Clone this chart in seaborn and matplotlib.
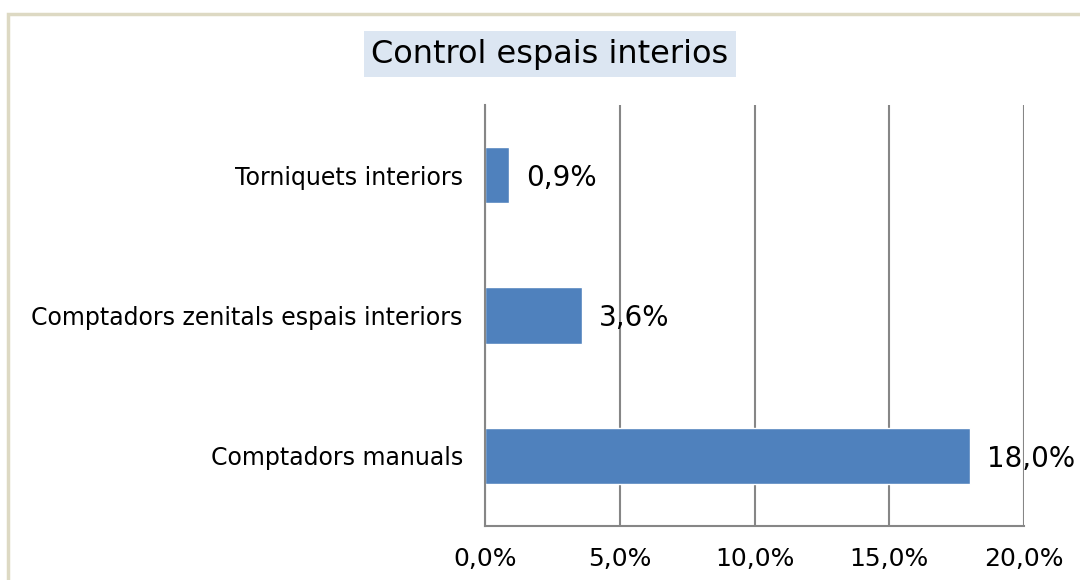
import matplotlib
matplotlib.use("Agg")
import matplotlib.pyplot as plt
import matplotlib.patches as mpatches
from matplotlib.ticker import FuncFormatter, FixedLocator
import pandas as pd
import seaborn as sns

categories = ["Torniquets interiors", "Comptadors zenitals espais interiors", "Comptadors manuals"]
values = [0.9, 3.6, 18.0]
x_ticks = [0, 5, 10, 15, 20]
title = "Control espais interios"

BAR_COLOR = "#4F81BD"
GRID_COLOR = "#868686"


def pct(v, _pos=None):
    return f"{v:.1f}%".replace(".", ",")


def main():
    sns.set_style("white")
    plt.rcParams["font.family"] = ["DejaVu Sans"]
    plt.rcParams["text.color"] = "black"

    df = pd.DataFrame({"categoria": categories, "valor": values})

    fig = plt.figure(figsize=(10.8, 5.8), dpi=100)
    ax = fig.add_axes([485 / 1080, 1 - 526 / 580, (1024 - 485) / 1080, (526 - 105) / 580])

    sns.barplot(data=df, x="valor", y="categoria", order=categories,
                color=BAR_COLOR, saturation=1, width=0.4, ax=ax)

    ax.set_xlim(0, 20)
    ax.set_ylim(2.5, -0.5)
    ax.set_xlabel("")
    ax.set_ylabel("")

    ax.xaxis.set_major_locator(FixedLocator(x_ticks))
    ax.xaxis.set_major_formatter(FuncFormatter(pct))
    ax.grid(axis="x", color=GRID_COLOR, linewidth=1.5)
    ax.set_axisbelow(True)

    # category labels on major ticks, short tick marks between categories
    ax.set_yticks(range(len(categories)))
    ax.set_yticklabels(categories)
    ax.set_yticks([-0.5, 0.5, 1.5, 2.5], minor=True)
    ax.tick_params(axis="y", which="major", length=0, pad=16, labelsize=17, labelcolor="black")
    ax.tick_params(axis="y", which="minor", length=6, width=1.5, color=GRID_COLOR, direction="out")
    ax.tick_params(axis="x", which="major", length=6, width=1.5, color=GRID_COLOR,
                   direction="out", labelsize=18, pad=9, labelcolor="black")

    for side in ["top", "right"]:
        ax.spines[side].set_visible(False)
    for side in ["left", "bottom"]:
        ax.spines[side].set_color(GRID_COLOR)
        ax.spines[side].set_linewidth(1.5)

    for i, v in enumerate(values):
        ax.annotate(pct(v), xy=(v, i), xytext=(12, -2), textcoords="offset points",
                    va="center", ha="left", fontsize=20, color="black")

    fig.text(550 / 1080, 1 - 54 / 580, title, ha="center", va="center", fontsize=23,
             color="black", bbox=dict(facecolor="#DCE6F2", edgecolor="none", pad=5))

    border = mpatches.Rectangle((7.5 / 1080, -0.2), 1.2, 1 - 13.5 / 580 + 0.2,
                                transform=fig.transFigure, fill=False,
                                edgecolor="#DDD9C3", linewidth=2.5, clip_on=False)
    fig.patches.append(border)

    fig.savefig("out.png", dpi=100)
    plt.close(fig)


if __name__ == "__main__":
    main()
